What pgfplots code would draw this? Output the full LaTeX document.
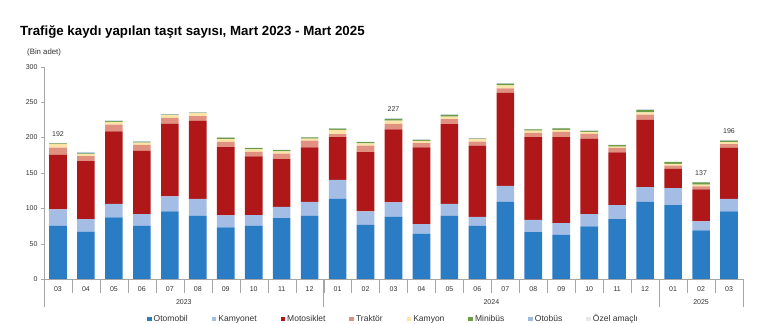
\documentclass[border=0pt]{standalone}
\usepackage{pgfplots}
\pgfplotsset{compat=1.18}
\usepackage{pgfplotstable}
\usepackage{fontspec}
\setmainfont{Liberation Sans}
\definecolor{cOto}{HTML}{2A7DC4}
\definecolor{cKmt}{HTML}{A4BDE5}
\definecolor{cMoto}{HTML}{B01718}
\definecolor{cTrak}{HTML}{E0917F}
\definecolor{cKamyon}{HTML}{FCE4A8}
\definecolor{cMini}{HTML}{6B9C46}
\definecolor{cOtobus}{HTML}{9EBAE0}
\definecolor{cOzel}{HTML}{E8E8E8}
\definecolor{txt}{HTML}{333333}
\pgfplotstableread{
x oto kmt moto trak kamyon mini otobus ozel
0 75 23.5 77 10 5 1 0.3 0.2
1 67 17.5 82 7 3 1 1.5 0.5
2 87 19 102.5 9.5 4 1.2 0.5 0.3
3 75 16.5 89.5 8.5 3.3 1 0.5 0.2
4 95.4 21.2 103 8 4 0.5 1 0.3
5 89.3 24 110 7 4 0.7 0.3 0.2
6 72.8 17 96.5 7.5 3.8 2 0.3 0.2
7 75.2 15 83 6.6 3.3 2 0.3 0.2
8 86 16 67.5 7.5 3.5 1.5 0.3 0.2
9 89.3 19.7 77 9.5 3 1.5 0.3 0.2
10 113.3 26.8 60.3 4.2 6 2 0.4 0.2
11 76.6 18.8 83.8 9.3 3 1.8 0.3 0.2
12 88.3 19.8 103.5 7.5 4.7 2.3 0.5 0.3
13 63.9 13.7 108.4 6 3.2 1.5 0.3 0.2
14 89.3 17 112.4 7.1 3.7 2.5 0.3 0.2
15 75.2 12.7 100.6 5.7 3.5 0.5 1 0.3
16 109 22.6 131.3 6.6 4.2 2.5 0.4 0.2
17 66.3 17.4 116.7 6 3.3 1.9 0.3 0.2
18 62.5 16.5 121.4 7.4 2.9 2.3 0.3 0.2
19 74.2 17.5 106.7 6.6 2.8 1.5 0.3 0.2
20 84.7 19.7 74.5 6.5 1.8 1.9 0.3 0.2
21 109 20.8 95 7.5 3.3 3.3 0.3 0.2
22 104.4 24 27.7 4.2 2.4 2.4 0.4 0.2
23 68.6 12.7 45.5 4.2 2.4 3 0.4 0.2
24 95.4 17.9 72.5 4.8 2.8 2.3 0.3 0.2
}\datatable
\begin{document}
\begin{tikzpicture}
\useasboundingbox (0,0) rectangle (764pt,324pt);
\node[anchor=base west, inner sep=0pt, font=\bfseries\fontsize{13.3}{15}\selectfont, text=black] at (20pt,288pt) {Trafiğe kaydı yapılan taşıt sayısı, Mart 2023 - Mart 2025};
\node[anchor=west, inner sep=0pt, font=\fontsize{7.8}{9}\selectfont, text=txt] at (27pt,272pt) {(Bin adet)};
\begin{axis}[
  at={(44pt,45pt)}, anchor=south west,
  scale only axis, width=699pt, height=212.3pt,
  ybar stacked, bar width=0.63,
  xmin=-0.5, xmax=24.5, ymin=0, ymax=300,
  ytick={0,50,...,300},
  axis x line*=bottom, axis y line*=left,
  axis line style={gray!70},
  xtick={0,...,24},
  xticklabels={03,04,05,06,07,08,09,10,11,12,01,02,03,04,05,06,07,08,09,10,11,12,01,02,03},
  minor xtick={-0.5,0.5,...,24.5},
  major x tick style={draw=none},
  minor x tick style={draw=gray!70},
  minor tick length=14pt,
  major tick length=3pt,
  ytick style={draw=gray!70},
  xtick align=outside, ytick align=outside,
  ticklabel style={font=\fontsize{7}{8}\selectfont, text=txt},
  xticklabel style={yshift=-1pt},
  /pgf/number format/assume math mode=true,
  clip=false,
  legend columns=8,
  legend style={draw=none, at={(0.5,-0.188)}, anchor=center, font=\fontsize{8.5}{10}\selectfont, text=txt,
    /tikz/every even column/.append style={column sep=22pt}},
  legend image code/.code={\fill[#1] (0pt,-2.3pt) rectangle (4.6pt,2.3pt);},
]
\addplot[fill=cOto, draw=none] table[x=x,y=oto]{\datatable};
\addplot[fill=cKmt, draw=none] table[x=x,y=kmt]{\datatable};
\addplot[fill=cMoto, draw=none] table[x=x,y=moto]{\datatable};
\addplot[fill=cTrak, draw=none] table[x=x,y=trak]{\datatable};
\addplot[fill=cKamyon, draw=none] table[x=x,y=kamyon]{\datatable};
\addplot[fill=cMini, draw=none] table[x=x,y=mini]{\datatable};
\addplot[fill=cOtobus, draw=none] table[x=x,y=otobus]{\datatable};
\addplot[fill=cOzel, draw=none] table[x=x,y=ozel]{\datatable};
\legend{Otomobil,Kamyonet,Motosiklet,Traktör,Kamyon,Minibüs,Otobüs,Özel amaçlı}
\draw[gray!70] (axis cs:-0.5,0) -- ++(0pt,-28pt);
\draw[gray!70] (axis cs:9.5,0) -- ++(0pt,-28pt);
\draw[gray!70] (axis cs:21.5,0) -- ++(0pt,-28pt);
\draw[gray!70] (axis cs:24.5,0) -- ++(0pt,-28pt);
\node[font=\fontsize{7}{8}\selectfont, text=txt] at (axis cs:4.5,0) [yshift=-23pt] {2023};
\node[font=\fontsize{7}{8}\selectfont, text=txt] at (axis cs:15.5,0) [yshift=-23pt] {2024};
\node[font=\fontsize{7}{8}\selectfont, text=txt] at (axis cs:23,0) [yshift=-23pt] {2025};
\node[font=\fontsize{7}{8}\selectfont, text=txt, anchor=south] at (axis cs:0,192) [yshift=3pt] {192};
\node[font=\fontsize{7}{8}\selectfont, text=txt, anchor=south] at (axis cs:12,227) [yshift=3pt] {227};
\node[font=\fontsize{7}{8}\selectfont, text=txt, anchor=south] at (axis cs:23,137) [yshift=3pt] {137};
\node[font=\fontsize{7}{8}\selectfont, text=txt, anchor=south] at (axis cs:24,196) [yshift=3pt] {196};
\end{axis}
\end{tikzpicture}
\end{document}
